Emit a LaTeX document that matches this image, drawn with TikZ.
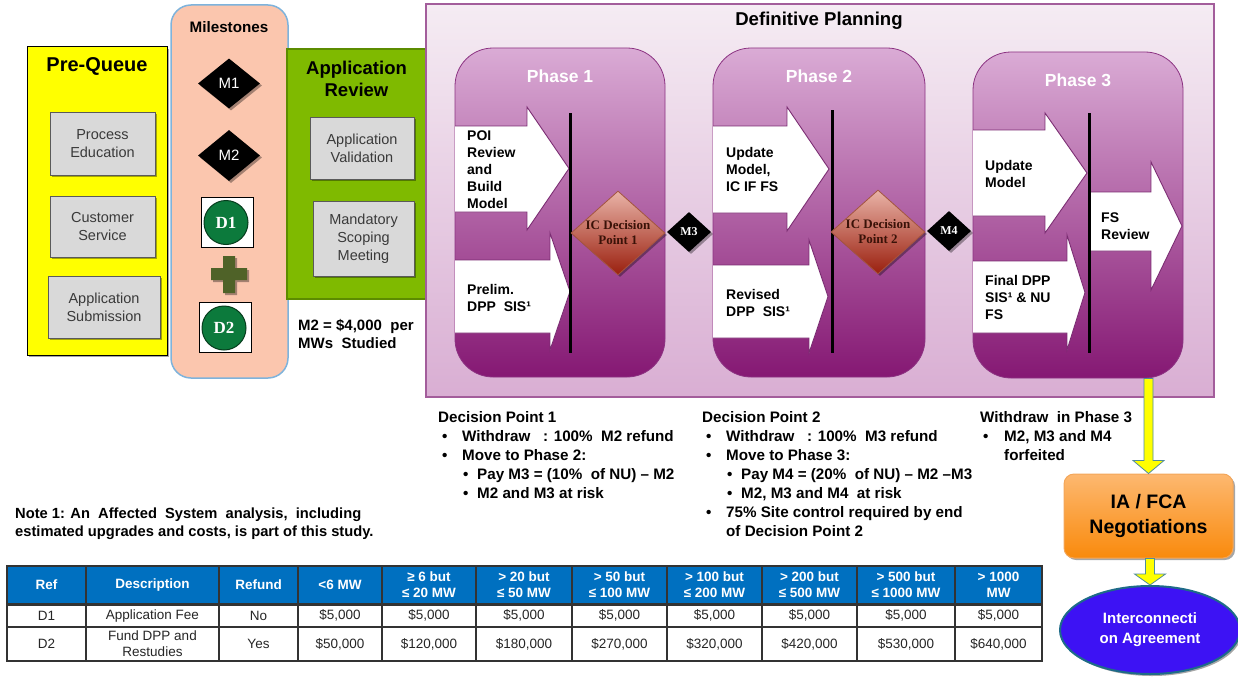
\documentclass[tikz,border=0pt]{standalone}
\usepackage{fontspec}
\setmainfont{Liberation Sans}
\newfontfamily\tnr{Liberation Serif}
\usetikzlibrary{shapes.geometric,shadows,calc}
\definecolor{pqyellow}{HTML}{FFFF00}
\definecolor{msfill}{HTML}{FBC6AE}
\definecolor{msborder}{HTML}{7EB3DC}
\definecolor{argreen}{HTML}{7FBA00}
\definecolor{arborder}{HTML}{5C8C00}
\definecolor{boxgray}{HTML}{D9D9D9}
\definecolor{boxedge}{HTML}{5A5A5A}
\definecolor{boxtext}{HTML}{3A3A3A}
\definecolor{dptop}{HTML}{F5ECF3}
\definecolor{dpbot}{HTML}{D9AED3}
\definecolor{dpedge}{HTML}{A35D9B}
\definecolor{phtop}{HTML}{DAABD5}
\definecolor{phbot}{HTML}{851873}
\definecolor{phedge}{HTML}{8C3382}
\definecolor{arredge}{HTML}{7B2C72}
\definecolor{ictop}{HTML}{E9B3A7}
\definecolor{icbot}{HTML}{9A1F0E}
\definecolor{icedge}{HTML}{A4553F}
\definecolor{ictext}{HTML}{3A1208}
\definecolor{dgreen}{HTML}{0C7A3C}
\definecolor{dgedge}{HTML}{063D1D}
\definecolor{plusgreen}{HTML}{4F6228}
\definecolor{tblue}{HTML}{0070C0}
\definecolor{tline}{HTML}{333333}
\definecolor{ortop}{HTML}{FDB870}
\definecolor{orbot}{HTML}{F98A0C}
\definecolor{oredge}{HTML}{F3A65A}
\definecolor{elfill}{HTML}{3D12F4}
\definecolor{eledge}{HTML}{1E6B88}
\definecolor{yarrow}{HTML}{FFFF00}
\definecolor{yedge}{HTML}{4F8C9C}

\tikzset{
  shadowed/.style={drop shadow={shadow xshift=2pt,shadow yshift=-2pt,opacity=0.35,fill=black}},
  graybox/.style={draw=boxedge,fill=boxgray,line width=1pt,align=center,inner sep=0pt,text=boxtext,font=\fontsize{14.5}{18}\selectfont,shadowed},
  blockarrow/.style={draw=arredge,fill=white,line width=0.9pt,line join=miter},
  arrowtext/.style={anchor=west,align=left,inner sep=0pt,font=\bfseries\fontsize{14}{17}\selectfont},
  phasebox/.style={draw=phedge,line width=0.8pt,top color=phtop,bottom color=phbot,rounded corners=38pt,inner sep=0pt},
  phasetitle/.style={text=white,font=\bfseries\fontsize{17.5}{20}\selectfont,inner sep=0pt},
  icdiamond/.style={diamond,draw=icedge,line width=0.8pt,top color=ictop,bottom color=icbot,inner sep=-4pt,minimum width=94pt,minimum height=84pt,align=center,text=ictext,font=\tnr\bfseries\fontsize{13}{15}\selectfont,shadowed},
  mdiamond/.style={diamond,fill=black,inner sep=0pt,text=white,shadowed},
  dbox/.style={draw=black,line width=0.8pt,fill=white,minimum width=52pt,minimum height=50pt,inner sep=0pt},
  dcircle/.style={circle,draw=dgedge,line width=1pt,fill=dgreen,minimum size=44pt,inner sep=0pt,text=white,font=\tnr\bfseries\fontsize{17}{20}\selectfont},
  vline/.style={line width=3pt,black},
  bultext/.style={anchor=north west,align=left,inner sep=0pt,font=\bfseries\fontsize{15.2}{19}\selectfont},
  thead/.style={text=white,align=center,inner sep=0pt,font=\bfseries\fontsize{13.5}{16}\selectfont},
  tbody/.style={text=black!85,align=center,inner sep=0pt,font=\fontsize{13.5}{16}\selectfont},
}
\newcommand\myblockarrow[7]{\draw[blockarrow] (#1,#2) -- (#4,#2) -- (#4,#5) -- (#7,{(#5+#6)/2}) -- (#4,#6) -- (#4,#3) -- (#1,#3);}
\newcommand\myyarrow[3]{\filldraw[fill=yarrow,draw=yedge,line width=0.8pt] let \p1=(#1), \p2=(#2) in (\x2-4.5pt,\y1) -- (\x2-4.5pt,\y2+#3) -- (\x2-15.5pt,\y2+#3) -- (\x2,\y2) -- (\x2+15.5pt,\y2+#3) -- (\x2+4.5pt,\y2+#3) -- (\x2+4.5pt,\y1) -- cycle;}
\newcommand\bA{\hspace*{4pt}\makebox[20pt][l]{\textbullet}}
\newcommand\bB{\hspace*{25pt}\makebox[14pt][l]{\textbullet}}

\begin{document}
\begin{tikzpicture}[x=1pt,y=-1pt]
\useasboundingbox (0,0) rectangle (1238,677);

% ---------------- Pre-Queue
\node[draw=black,line width=1pt,fill=pqyellow,minimum width=140pt,minimum height=308pt,inner sep=0pt,shadowed] (pq) at (97,201) {};
\node[font=\bfseries\fontsize{20}{24}\selectfont,inner sep=0pt] (pqt) at (97,66) {Pre-Queue};
\node[graybox,minimum width=105pt,minimum height=63pt] (pe) at (102.5,143.5) {Process\\Education};
\node[graybox,minimum width=105pt,minimum height=61pt] (cs) at (102.5,226.5) {Customer\\Service};
\node[graybox,minimum width=112pt,minimum height=62pt] (as) at (104,307) {Application\\Submission};

% ---------------- Milestones
\node[draw=msborder,line width=1.5pt,fill=msfill,rounded corners=20pt,minimum width=117pt,minimum height=373pt,inner sep=0pt] (ms) at (229.5,191.5) {};
\node[font=\bfseries\fontsize{15.2}{18}\selectfont,inner sep=0pt] (mst) at (229,27) {Milestones};
\node[mdiamond,minimum width=62pt,minimum height=50pt,font=\fontsize{15}{18}\selectfont] (m1) at (229,83.5) {M1};
\node[mdiamond,minimum width=62pt,minimum height=51pt,font=\fontsize{15}{18}\selectfont] (m2) at (229,155.5) {M2};
\node[dbox] (d1box) at (227.5,222) {};
\node[dcircle] (d1) at (226,222.5) {D1};
\fill[plusgreen,shadowed] (223,256) -- (235,256) -- (235,268) -- (247,268) -- (247,280) -- (235,280) -- (235,293) -- (223,293) -- (223,280) -- (211,280) -- (211,268) -- (223,268) -- cycle;
\node[dbox] (d2box) at (225,327) {};
\node[dcircle] (d2) at (224,328) {D2};

% ---------------- Application Review
\node[draw=arborder,line width=1.5pt,fill=argreen,minimum width=139pt,minimum height=250pt,inner sep=0pt] (ar) at (356.5,174) {};
\node[font=\bfseries\fontsize{18.5}{22}\selectfont,align=center,inner sep=0pt] (art) at (356.5,79) {Application\\Review};
\node[graybox,minimum width=104pt,minimum height=62pt] (av) at (362,148) {Application\\Validation};
\node[graybox,minimum width=101pt,minimum height=75pt] (msm) at (363.5,238.5) {Mandatory\\Scoping\\Meeting};
\node[anchor=west,align=left,inner sep=0pt,font=\bfseries\fontsize{15}{18}\selectfont] (m2note) at (298,334) {M2 = \$4,000\ \ per\\MWs\ \ Studied};

% ---------------- Definitive Planning
\node[draw=dpedge,line width=1.2pt,top color=dptop,bottom color=dpbot,minimum width=788pt,minimum height=393pt,inner sep=0pt] (dp) at (820,200.5) {};
\node[font=\bfseries\fontsize{18.6}{22}\selectfont,inner sep=0pt] (dpt) at (819,21) {Definitive Planning};

\node[phasebox,minimum width=210pt,minimum height=329pt] (p1) at (560,212.5) {};
\node[phasebox,minimum width=212pt,minimum height=329pt] (p2) at (819,212.5) {};
\node[phasebox,minimum width=210pt,minimum height=326pt] (p3) at (1078,215) {};
\node[phasetitle] (p1t) at (560,76) {Phase 1};
\node[phasetitle] (p2t) at (819,76) {Phase 2};
\node[phasetitle] (p3t) at (1078,80) {Phase 3};

% block arrows
\myblockarrow{455}{126}{212}{527}{107}{230}{569}
\myblockarrow{455}{260}{333}{550}{233}{350}{570}
\myblockarrow{713}{126}{213}{787}{107}{231}{829}
\myblockarrow{713}{265}{338}{809}{240}{353}{828}
\myblockarrow{973}{130}{216}{1045}{113}{233}{1087}
\myblockarrow{973}{261}{333}{1067}{235}{350}{1085}
\myblockarrow{1090}{192}{251}{1151}{162}{290}{1182}

\node[arrowtext] (t1a) at (467,170) {POI\\Review\\and\\Build\\Model};
\node[arrowtext] (t1b) at (467,298) {Prelim.\\DPP\ \ SIS¹};
\node[arrowtext] (t2a) at (726,169) {Update\\Model,\\IC IF FS};
\node[arrowtext] (t2b) at (726,303) {Revised\\DPP\ \ SIS¹};
\node[arrowtext] (t3a) at (985,174) {Update\\Model};
\node[arrowtext] (t3b) at (985,297) {Final DPP\\SIS¹ \& NU\\FS};
\node[arrowtext] (t3c) at (1101,226) {FS\\Review};

% vertical lines
\coordinate (l1a) at (570,113); \coordinate (l1b) at (570,353);
\coordinate (l2a) at (832,110); \coordinate (l2b) at (832,353);
\coordinate (l3a) at (1089,113); \coordinate (l3b) at (1089,353);
\draw[vline] (l1a) -- (l1b);
\draw[vline] (l2a) -- (l2b);
\draw[vline] (l3a) -- (l3b);

% decision diamonds
\node[icdiamond] (ic1) at (618,233) {IC Decision\\Point 1};
\node[icdiamond] (ic2) at (878,232) {IC Decision\\Point 2};
\node[mdiamond,minimum width=44pt,minimum height=40pt,font=\tnr\bfseries\fontsize{12}{14}\selectfont] (m3) at (689,232) {M3};
\node[mdiamond,minimum width=44pt,minimum height=40pt,font=\tnr\bfseries\fontsize{12}{14}\selectfont] (m4) at (949,231) {M4};

% ---------------- Decision texts
\node[bultext] (dec1) at (438,411) {Decision Point 1\\
\bA Withdraw\ \ \ : 100\%\ \ M2 refund\\
\bA Move to Phase 2:\\
\bB Pay M3 = (10\%\ \ of NU) – M2\\
\bB M2 and M3 at risk};
\node[bultext] (dec2) at (702,411) {Decision Point 2\\
\bA Withdraw\ \ \ : 100\%\ \ M3 refund\\
\bA Move to Phase 3:\\
\bB Pay M4 = (20\%\ \ of NU) – M2 –M3\\
\bB M2, M3 and M4\ \ at risk\\
\bA 75\% Site control required by end\\
\hspace*{24pt}of Decision Point 2};
\node[bultext] (dec3) at (980,411) {Withdraw\ \ in Phase 3\\
\hspace*{3pt}\makebox[21pt][l]{\textbullet}M2, M3 and M4\\
\hspace*{24pt}forfeited};

\node[anchor=north west,align=left,inner sep=0pt,font=\bfseries\fontsize{14.7}{18}\selectfont] (note) at (15,508) {Note 1: An\ \ Affected\ \ System\ \ analysis,\ \ including\\estimated upgrades and costs, is part of this study.};

% ---------------- Table
\fill[tblue] (7,566) rectangle (1042,604);
\fill[white] (7,604) rectangle (1042,661);
\foreach \xx in {7,86,219,298,382,476,572,667,762,857,955,1042}
  \draw[tline,line width=1.5pt] (\xx,566) -- (\xx,661);
\draw[tline,line width=1.5pt] (6.25,566) -- (1042.75,566);
\draw[tline,line width=3pt] (6.25,604) -- (1042.75,604);
\draw[tline,line width=1.5pt] (6.25,627) -- (1042.75,627);
\draw[tline,line width=1.5pt] (6.25,661) -- (1042.75,661);
\foreach \cx/\t [count=\i] in {46.5/Ref,152.5/Description,258.5/Refund,340/{<6 MW},429/{≥ 6 but\\≤ 20 MW},524/{> 20 but\\≤ 50 MW},619.5/{> 50 but\\≤ 100 MW},714.5/{> 100 but\\≤ 200 MW},809.5/{> 200 but\\≤ 500 MW},906/{> 500 but\\≤ 1000 MW},998.5/{> 1000\\MW}}
  \node[thead] (h\i) at (\cx,585) {\t};
\foreach \cx/\t [count=\i] in {46.5/D1,152.5/Application Fee,258.5/No,340/{\$5,000},429/{\$5,000},524/{\$5,000},619.5/{\$5,000},714.5/{\$5,000},809.5/{\$5,000},906/{\$5,000},998.5/{\$5,000}}
  \node[tbody] (ra\i) at (\cx,615.5) {\t};
\foreach \cx/\t [count=\i] in {46.5/D2,152.5/{Fund DPP and\\Restudies},258.5/Yes,340/{\$50,000},429/{\$120,000},524/{\$180,000},619.5/{\$270,000},714.5/{\$320,000},809.5/{\$420,000},906/{\$530,000},998.5/{\$640,000}}
  \node[tbody] (rb\i) at (\cx,644) {\t};

% ---------------- IA / FCA and agreement
\node[draw=oredge,line width=1pt,rounded corners=10pt,top color=ortop,bottom color=orbot,minimum width=169pt,minimum height=84pt,inner sep=0pt,align=center,font=\bfseries\fontsize{19.5}{25}\selectfont,shadowed] (ia) at (1148.5,516) {IA / FCA\\Negotiations};
\node[ellipse,draw=eledge,line width=2pt,fill=elfill,minimum width=180pt,minimum height=88pt,inner sep=0pt,align=center,text=white,font=\bfseries\fontsize{15}{20}\selectfont,shadowed] (ica) at (1150,630) {Interconnecti\\on Agreement};

\myyarrow{ia.north |- p3.south}{ia.north}{13pt}
\myyarrow{ia.south}{ica.north}{11pt}

\end{tikzpicture}
\end{document}
